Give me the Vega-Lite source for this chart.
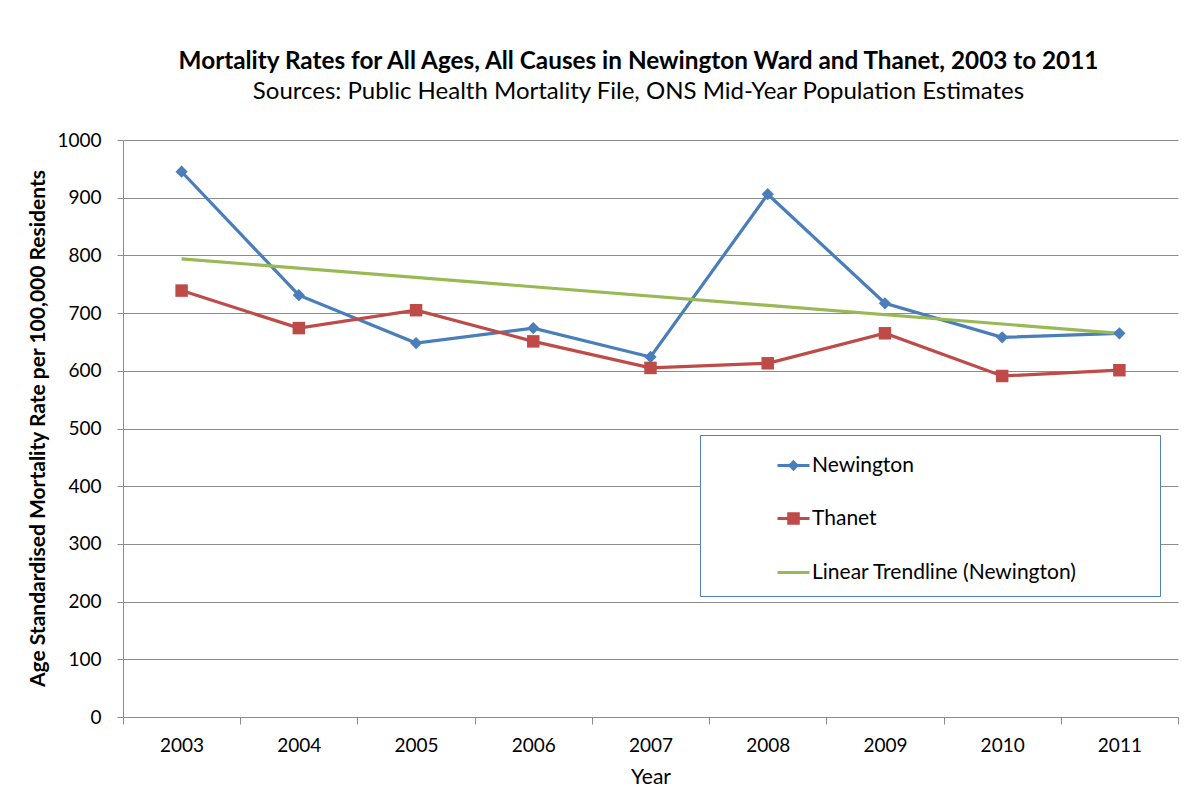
{
  "$schema": "https://vega.github.io/schema/vega-lite/v6.json",
  "width": 1055,
  "height": 577,
  "autosize": {"type": "none"},
  "padding": {"left": 123, "top": 140, "right": 18, "bottom": 70},
  "background": "white",
  "config": {
    "view": {"stroke": null},
    "font": "Lato"
  },
  "title": {
    "text": "Mortality Rates for All Ages, All Causes in Newington Ward and Thanet, 2003 to 2011",
    "subtitle": "Sources: Public Health Mortality File, ONS Mid-Year Population Estimates",
    "anchor": "middle",
    "font": "Lato",
    "subtitleFont": "Lato",
    "fontSize": 24.3,
    "subtitleFontSize": 24,
    "fontWeight": "bold",
    "color": "black",
    "subtitleColor": "black",
    "subtitlePadding": 6,
    "offset": 27,
    "dx": -12
  },
  "data": {
    "values": [
      {"year": "2003", "series": "Newington", "value": 945},
      {"year": "2004", "series": "Newington", "value": 731},
      {"year": "2005", "series": "Newington", "value": 648},
      {"year": "2006", "series": "Newington", "value": 674},
      {"year": "2007", "series": "Newington", "value": 624},
      {"year": "2008", "series": "Newington", "value": 906},
      {"year": "2009", "series": "Newington", "value": 717},
      {"year": "2010", "series": "Newington", "value": 658},
      {"year": "2011", "series": "Newington", "value": 665},
      {"year": "2003", "series": "Thanet", "value": 739},
      {"year": "2004", "series": "Thanet", "value": 674},
      {"year": "2005", "series": "Thanet", "value": 705},
      {"year": "2006", "series": "Thanet", "value": 651},
      {"year": "2007", "series": "Thanet", "value": 605},
      {"year": "2008", "series": "Thanet", "value": 613},
      {"year": "2009", "series": "Thanet", "value": 665},
      {"year": "2010", "series": "Thanet", "value": 591},
      {"year": "2011", "series": "Thanet", "value": 601},
      {"year": "2003", "series": "Linear Trendline (Newington)", "value": 794},
      {"year": "2011", "series": "Linear Trendline (Newington)", "value": 665}
    ]
  },
  "encoding": {
    "x": {
      "field": "year",
      "type": "ordinal",
      "scale": {"type": "band", "paddingInner": 0, "paddingOuter": 0},
      "axis": {
        "title": "Year",
        "titleFont": "Lato",
        "titleFontSize": 21,
        "titleFontWeight": "normal",
        "titleColor": "black",
        "titleY": 60,
        "titleBaseline": "middle",
        "labelAngle": 0,
        "labelFont": "Lato",
        "labelFontSize": 19,
        "labelColor": "black",
        "labelPadding": 12,
        "tickBand": "extent",
        "tickSize": 7,
        "tickColor": "#8c8c8c",
        "domainColor": "#8c8c8c",
        "grid": false
      }
    },
    "y": {
      "field": "value",
      "type": "quantitative",
      "scale": {"domain": [0, 1000], "nice": false},
      "axis": {
        "title": "Age Standardised Mortality Rate per 100,000 Residents",
        "titleFont": "Lato",
        "titleFontSize": 21,
        "titleFontWeight": "bold",
        "titleColor": "black",
        "titleX": -85,
        "titleY": 288,
        "titleBaseline": "middle",
        "titleAlign": "center",
        "titleAngle": -90,
        "values": [0, 100, 200, 300, 400, 500, 600, 700, 800, 900, 1000],
        "format": "d",
        "labelFont": "Lato",
        "labelFontSize": 19,
        "labelColor": "black",
        "labelPadding": 16,
        "tickSize": 6,
        "tickColor": "#8c8c8c",
        "domainColor": "#8c8c8c",
        "grid": true,
        "gridColor": "#8c8c8c",
        "gridOpacity": 1
      }
    },
    "color": {
      "field": "series",
      "type": "nominal",
      "scale": {
        "domain": ["Newington", "Thanet", "Linear Trendline (Newington)"],
        "range": ["#4A7EBB", "#BE4B48", "#98B954"]
      }
    }
  },
  "layer": [
    {
      "mark": {"type": "line", "strokeWidth": 3.2},
      "encoding": {
        "color": {
          "field": "series",
          "type": "nominal",
          "legend": {
            "orient": "none",
            "legendX": 577,
            "legendY": 295,
            "title": null,
            "direction": "vertical",
            "padding": 13,
            "strokeColor": "#4F81BD",
            "fillColor": "white",
            "labelFont": "Lato",
            "labelFontSize": 21,
            "labelColor": "black",
            "labelLimit": 2000,
            "labelExpr": "datum.label + '             \u200b'",
            "symbolSize": 1024,
            "symbolStrokeWidth": 3,
            "symbolOffset": 63,
            "labelOffset": 1,
            "rowPadding": 25,
            "encode": {
              "symbols": {
                "update": {
                  "shape": {"signal": "datum.value === 'Newington' ? 'M-1,0H1M0,-0.22L0.22,0L0,0.22L-0.22,0Z' : datum.value === 'Thanet' ? 'M-1,0H1M-0.3,-0.3H0.3V0.3H-0.3Z' : 'M-1,0H1'"},
                  "fill": {"signal": "scale('color', datum.value)"},
                  "stroke": {"signal": "scale('color', datum.value)"},
                  "strokeWidth": {"value": 3},
                  "opacity": {"value": 1},
                  "fillOpacity": {"value": 1}
                }
              }
            }
          }
        }
      }
    },
    {
      "transform": [{"filter": "datum.series !== 'Linear Trendline (Newington)'"}],
      "mark": {"type": "point", "filled": true, "opacity": 1, "strokeWidth": 0},
      "encoding": {
        "shape": {
          "field": "series",
          "type": "nominal",
          "scale": {"domain": ["Newington", "Thanet"], "range": ["diamond", "square"]},
          "legend": null
        },
        "size": {
          "field": "series",
          "type": "nominal",
          "scale": {"domain": ["Newington", "Thanet"], "range": [150, 156]},
          "legend": null
        }
      }
    }
  ]
}
